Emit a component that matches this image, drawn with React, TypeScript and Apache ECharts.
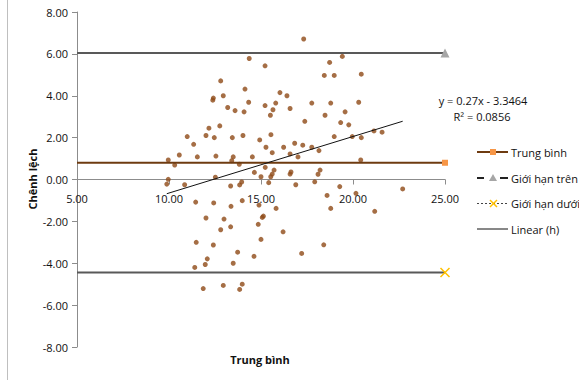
import React, { useEffect, useRef } from "react";
import * as echarts from "echarts";

// Average of the two measurements (x) and their difference (y)
const avgValues: number[] = [
  14.36, 15.22, 12.81, 14.13, 16.03, 16.41, 12.95, 12.41, 12.38, 14.33,
  15.8, 15.22, 13.19, 15.65, 13.59, 14.08, 16.58, 15.51, 12.17, 12.76,
  10.99, 12.01, 12.46, 13.44, 14.02, 15.54, 14.93, 11.34, 15.27, 16.23,
  10.56, 11.54, 12.55, 13.49, 14.53, 15.61, 9.96, 13.41, 10.31, 13.82,
  17.32, 19.42, 18.73, 18.44, 18.98, 20.45, 17.76, 18.79, 20.31, 19.57,
  18.48, 17.38, 19.33, 19.77, 18.98, 19.96, 20.45, 21.14, 21.58, 16.83,
  17.27, 17.76, 18.15, 16.58, 17.01, 20.42, 15.23, 14.64, 15.71, 15.61,
  15.53, 15.0, 12.52, 9.96, 9.88, 10.85, 13.35, 13.95, 13.84, 15.42,
  11.45, 12.43, 13.98, 13.37, 14.89, 15.82, 12.01, 12.99, 15.13, 15.07,
  12.81, 13.35, 14.85, 16.2, 11.48, 12.41, 15.0, 13.73, 12.08, 14.62,
  11.97, 11.4, 13.49, 11.86, 12.95, 13.98, 13.84, 16.58, 16.63, 18.1,
  18.21, 16.89, 17.92, 19.28, 20.16, 22.7, 18.59, 18.79, 21.18, 18.41,
  17.21,
];
const diffValues: number[] = [
  5.78, 5.43, 4.71, 4.32, 4.15, 4.0, 4.0, 3.89, 3.79, 3.69,
  3.65, 3.53, 3.44, 3.33, 3.29, 3.23, 3.39, 3.07, 2.45, 2.56,
  2.05, 2.1, 2.0, 2.0, 2.1, 2.14, 1.89, 1.68, 1.54, 1.54,
  1.17, 1.08, 1.12, 1.08, 1.08, 1.28, 0.93, 0.9, 0.69, 0.73,
  6.71, 5.88, 5.59, 4.97, 4.97, 5.03, 3.65, 3.65, 3.69, 3.23,
  3.07, 2.78, 2.72, 2.61, 2.05, 2.05, 2.0, 2.32, 2.26, 1.73,
  1.64, 1.54, 1.38, 1.22, 1.08, 0.93, 0.58, 0.34, 0.45, 0.26,
  0.13, 0.13, 0.11, 0.01, -0.22, -0.25, -0.31, -0.12, -0.26, -0.15,
  -1.08, -1.12, -1.01, -1.28, -1.22, -1.38, -1.84, -1.89, -1.75, -1.81,
  -2.4, -2.26, -2.14, -2.5, -3.0, -3.13, -2.86, -3.47, -3.79, -3.67,
  -4.06, -4.2, -4.0, -5.21, -5.06, -5.0, -5.25, 0.26, 0.36, 0.25,
  0.45, -0.25, -0.11, -0.34, -0.66, -0.45, -0.76, -1.38, -1.52, -3.12,
  -3.53,
];

const limitX: number[] = [5, 25];
const meanDiff = 0.8;
const upperLimit = 6.04;
const lowerLimit = -4.44;
const trendSlope = 0.27;
const trendIntercept = -3.3464;
const trendLabel = ["y = 0.27x - 3.3464", "R\u00B2 = 0.0856"];
const legendNames = ["Trung bình", "Giới hạn trên", "Giới hạn dưới", "Linear (h)"];
const yTicks = { min: -8, max: 8, interval: 2 };
const xTicks = { min: 5, max: 25, interval: 5 };

const FONT = "Open Sans";
const GRID = { left: 77, top: 12, width: 368, height: 335 };

export default function App() {
  const ref = useRef<HTMLDivElement>(null);

  useEffect(() => {
    if (!ref.current) return;
    const chart = echarts.init(ref.current, null, { renderer: "svg" });

    const points = avgValues.map((x, i) => [x, diffValues[i]]);
    const xmin = Math.min(...avgValues);
    const xmax = Math.max(...avgValues);
    const trend = [
      [xmin, trendSlope * xmin + trendIntercept],
      [xmax, trendSlope * xmax + trendIntercept],
    ];
    const hline = (v: number) => [
      { value: [limitX[0], v], symbol: "none" },
      { value: [limitX[1], v] },
    ];
    // x axis crosses the y axis at 0: offset it up from the bottom of the grid
    const zeroOffset = -(GRID.height * (0 - yTicks.min)) / (yTicks.max - yTicks.min);

    const textStyle = (t: string, x: number, y: number, extra: any = {}) => ({
      type: "text",
      x,
      y,
      style: {
        text: t,
        fill: "#111",
        font: `11px "${FONT}"`,
        verticalAlign: "middle",
        ...extra,
      },
    });

    chart.setOption({
      animation: false,
      backgroundColor: "#fff",
      grid: { ...GRID, containLabel: false },
      xAxis: {
        type: "value",
        position: "bottom",
        offset: zeroOffset,
        min: xTicks.min,
        max: xTicks.max,
        interval: xTicks.interval,
        axisLine: { onZero: false, lineStyle: { color: "#8c8c8c", width: 1 } },
        axisTick: { show: true, length: 5, lineStyle: { color: "#8c8c8c" } },
        axisLabel: {
          margin: 13,
          color: "#111",
          fontFamily: FONT,
          fontSize: 11,
          formatter: (v: number) => v.toFixed(2),
        },
        splitLine: { show: false },
      },
      yAxis: {
        type: "value",
        min: yTicks.min,
        max: yTicks.max,
        interval: yTicks.interval,
        axisLine: { show: true, onZero: false, lineStyle: { color: "#8c8c8c", width: 1 } },
        axisTick: { show: true, length: 5, lineStyle: { color: "#8c8c8c" } },
        axisLabel: {
          margin: 9,
          color: "#111",
          fontFamily: FONT,
          fontSize: 11,
          formatter: (v: number) => v.toFixed(2),
        },
        splitLine: { show: false },
      },
      series: [
        {
          type: "scatter",
          data: points,
          symbol: "circle",
          symbolSize: 5,
          itemStyle: { color: "#8E4A17" },
          z: 2,
        },
        {
          name: legendNames[0],
          type: "line",
          data: hline(meanDiff),
          symbol: "rect",
          symbolSize: 6,
          lineStyle: { color: "#6E3B10", width: 2 },
          itemStyle: { color: "#F79646" },
          z: 3,
        },
        {
          name: legendNames[1],
          type: "line",
          data: hline(upperLimit),
          symbol: "triangle",
          symbolSize: 9,
          lineStyle: { color: "#595959", width: 2 },
          itemStyle: { color: "#A6A6A6" },
          z: 3,
        },
        {
          name: legendNames[2],
          type: "line",
          data: hline(lowerLimit),
          symbol: "path://M0,0L10,10M10,0L0,10",
          symbolSize: 9,
          lineStyle: { color: "#595959", width: 2 },
          itemStyle: { color: "none", borderColor: "#FFC000", borderWidth: 1.5 },
          z: 3,
        },
        {
          name: legendNames[3],
          type: "line",
          data: trend,
          symbol: "none",
          lineStyle: { color: "#111", width: 1 },
          z: 4,
        },
      ],
      graphic: [
        {
          type: "line",
          shape: { x1: 7.5, y1: 0, x2: 7.5, y2: 380 },
          style: { stroke: "#BFBFBF", lineWidth: 1 },
        },
        {
          type: "text",
          x: 32,
          y: 179,
          rotation: Math.PI / 2,
          style: {
            text: "Chênh lệch",
            fill: "#111",
            font: `bold 11px "${FONT}"`,
            align: "center",
            verticalAlign: "middle",
          },
        },
        textStyle("Trung bình", 260, 359, { font: `bold 11px "${FONT}"`, align: "center" }),
        textStyle(trendLabel[0], 483, 100, { align: "center" }),
        textStyle(trendLabel[1], 482, 116, { align: "center" }),
        // legend
        { type: "line", shape: { x1: 477, y1: 152, x2: 508, y2: 152 }, style: { stroke: "#6E3B10", lineWidth: 2 } },
        { type: "rect", shape: { x: 490, y: 149, width: 6, height: 6 }, style: { fill: "#F79646" } },
        textStyle(legendNames[0], 511, 152),
        { type: "line", shape: { x1: 477, y1: 178, x2: 484, y2: 178 }, style: { stroke: "#222", lineWidth: 2 } },
        { type: "line", shape: { x1: 500, y1: 178, x2: 508, y2: 178 }, style: { stroke: "#222", lineWidth: 2 } },
        { type: "polygon", shape: { points: [[489, 181], [493, 174], [497, 181]] }, style: { fill: "#A6A6A6" } },
        textStyle(legendNames[1], 511, 178),
        { type: "line", shape: { x1: 477, y1: 203.5, x2: 508, y2: 203.5 }, style: { stroke: "#444", lineWidth: 1, lineDash: [2, 2] } },
        { type: "line", shape: { x1: 490, y1: 200, x2: 497, y2: 207 }, style: { stroke: "#FFC000", lineWidth: 1.5 } },
        { type: "line", shape: { x1: 497, y1: 200, x2: 490, y2: 207 }, style: { stroke: "#FFC000", lineWidth: 1.5 } },
        textStyle(legendNames[2], 511, 203),
        { type: "line", shape: { x1: 477, y1: 229, x2: 508, y2: 229 }, style: { stroke: "#111", lineWidth: 1 } },
        textStyle(legendNames[3], 511, 229),
      ],
    });

    return () => chart.dispose();
  }, []);

  return (
    <div
      ref={ref}
      style={{ position: "absolute", left: 0, top: 0, width: 579, height: 380, background: "#fff" }}
    />
  );
}
